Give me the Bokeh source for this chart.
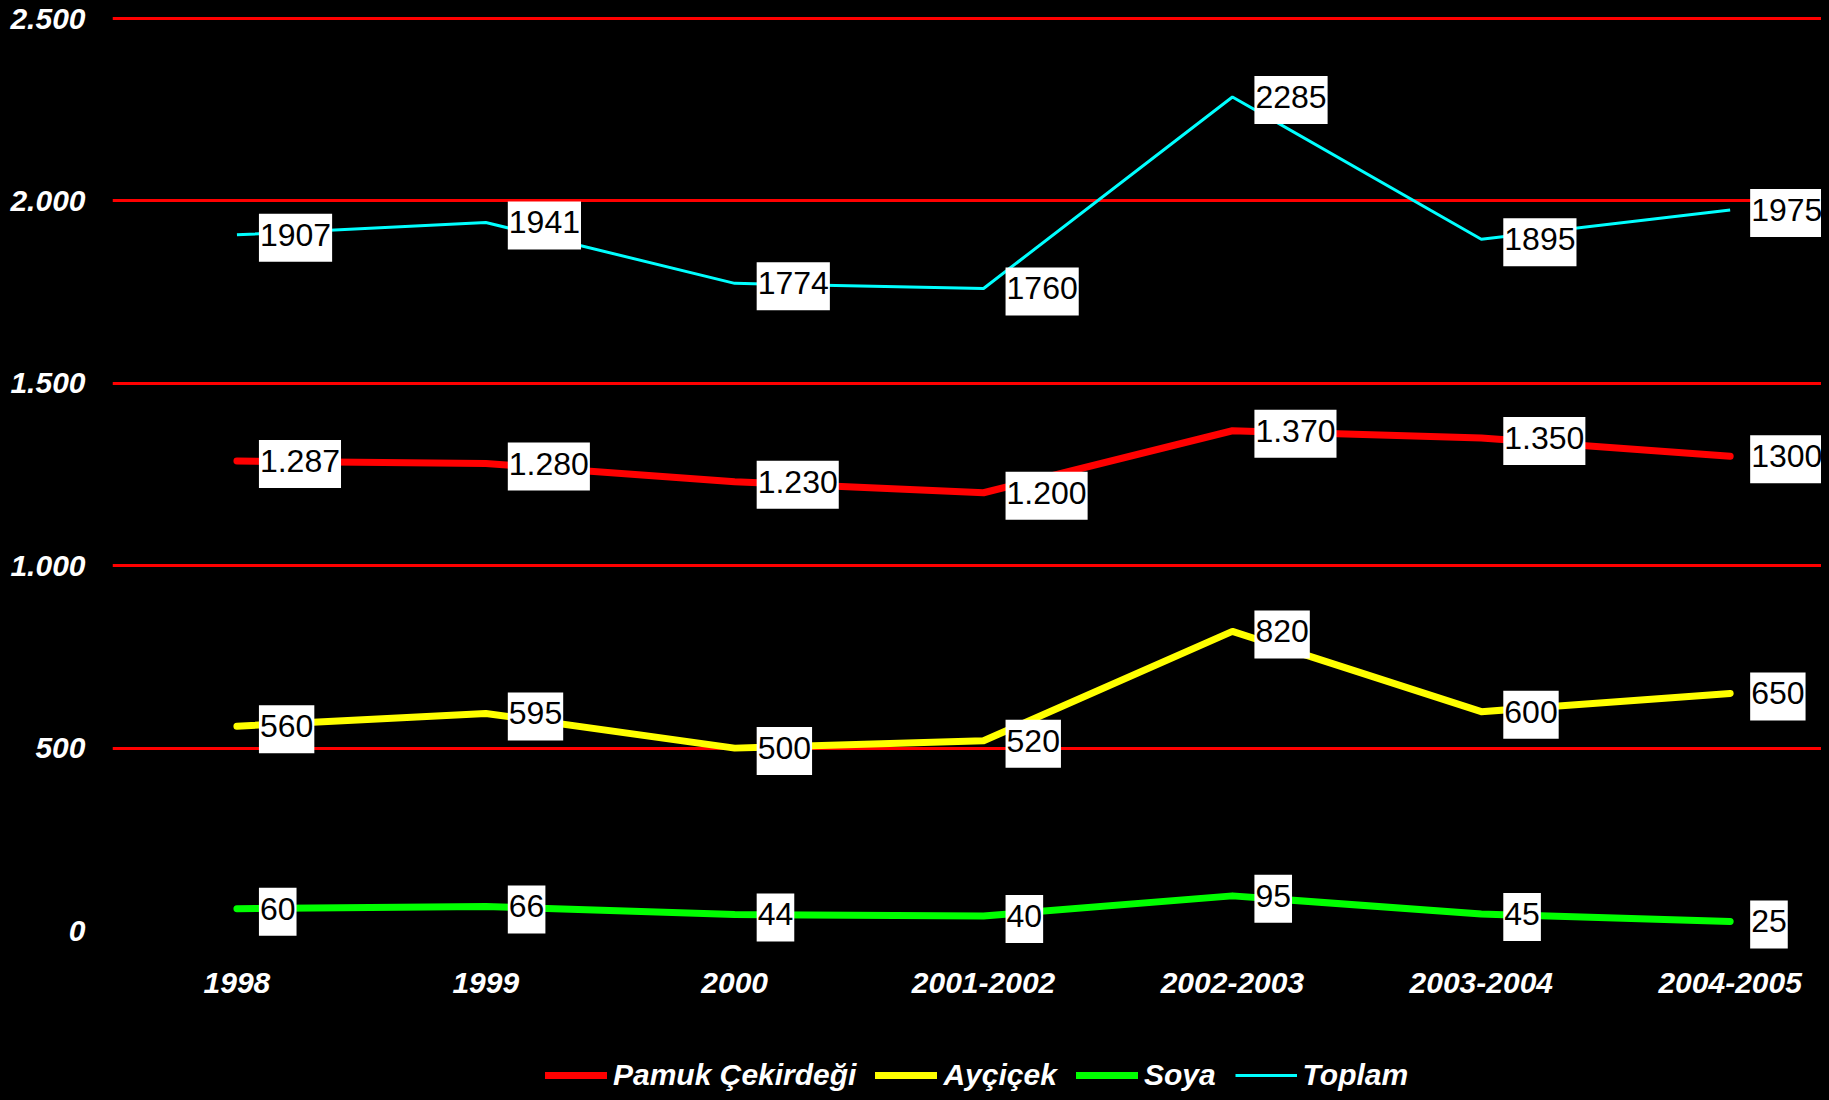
from bokeh.plotting import figure
from bokeh.models import Range1d, FixedTicker, Legend, LegendItem
from bokeh.core.properties import value
from bokeh.embed import file_html
from bokeh.resources import INLINE

# ---- data ----
categories = ["1998", "1999", "2000", "2001-2002", "2002-2003", "2003-2004", "2004-2005"]
pamuk = [1287, 1280, 1230, 1200, 1370, 1350, 1300]
pamuk_labels = ["1.287", "1.280", "1.230", "1.200", "1.370", "1.350", "1300"]
aycicek = [560, 595, 500, 520, 820, 600, 650]
soya = [60, 66, 44, 40, 95, 45, 25]
toplam = [1907, 1941, 1774, 1760, 2285, 1895, 1975]
y_ticks = [0, 500, 1000, 1500, 2000, 2500]
y_tick_labels = ["0", "500", "1.000", "1.500", "2.000", "2.500"]
series_names = ["Pamuk Çekirdeği", "Ayçiçek", "Soya", "Toplam"]

FONT = "Liberation Sans, Arial, sans-serif"

x = list(range(len(categories)))

p = figure(width=1821, height=1092, output_backend="svg", toolbar_location=None,
           x_range=Range1d(-0.5, 6.367), y_range=Range1d(-444, 2511),
           min_border_left=112, min_border_right=0, min_border_top=14,
           min_border_bottom=0, background_fill_color="black",
           border_fill_color="black", outline_line_color=None)

# grid
p.xgrid.visible = False
p.ygrid.ticker = FixedTicker(ticks=y_ticks[1:])
p.ygrid.grid_line_color = "#FF0000"
p.ygrid.grid_line_width = 3

# axes
p.yaxis.ticker = FixedTicker(ticks=y_ticks)
p.yaxis.major_label_overrides = {t: l for t, l in zip(y_ticks, y_tick_labels)}
p.xaxis.ticker = FixedTicker(ticks=x)
p.xaxis.major_label_overrides = {i: c for i, c in enumerate(categories)}
p.xaxis.fixed_location = 0
for ax in (p.xaxis[0], p.yaxis[0]):
    ax.axis_line_color = None
    ax.major_tick_line_color = None
    ax.minor_tick_line_color = None
    ax.major_tick_out = 0
    ax.major_tick_in = 0
    ax.major_label_text_color = "white"
    ax.major_label_text_font = FONT
    ax.major_label_text_font_style = "bold italic"
    ax.major_label_text_font_size = "30px"
p.yaxis.major_label_standoff = 27
p.xaxis.major_label_standoff = 42

# lines
r_p = p.line(x, pamuk, line_color="#FF0000", line_width=7, line_cap="round", line_join="round")
r_a = p.line(x, aycicek, line_color="#FFFF00", line_width=7, line_cap="round", line_join="round")
r_s = p.line(x, soya, line_color="#00FF00", line_width=7, line_cap="round", line_join="round")
r_t = p.line(x, toplam, line_color="#00FFFF", line_width=3)

# data labels
offsets = [22, 22, 22, 22, 22, 22, 20]

def add_labels(vals, texts):
    p.text(x, vals, text=texts, x_offset=offsets, y_offset=3,
           text_align="left", text_baseline="middle",
           text_font=value(FONT), text_font_size="32px", text_color="black",
           background_fill_color="white",
           padding=dict(left=1, right=1, top=10, bottom=16))

add_labels(pamuk, pamuk_labels)
add_labels(aycicek, [str(v) for v in aycicek])
add_labels(soya, [str(v) for v in soya])
add_labels(toplam, [str(v) for v in toplam])

legend = Legend(items=[LegendItem(label=n, renderers=[r]) for n, r in
                       zip(series_names, [r_p, r_a, r_s, r_t])],
                orientation="horizontal", location=(433, 0),
                background_fill_color="black", background_fill_alpha=1,
                border_line_color=None, label_text_color="white",
                label_text_font=FONT, label_text_font_style="bold italic",
                label_text_font_size="30px", glyph_width=62, glyph_height=30,
                label_standoff=6, spacing=19, padding=0, margin=0)
p.add_layout(legend, "center")

html = file_html(p, INLINE)
html = html.replace("<head>", "<head><style>html,body{background:#000;}</style>", 1)
open("out.html", "w").write(html)
